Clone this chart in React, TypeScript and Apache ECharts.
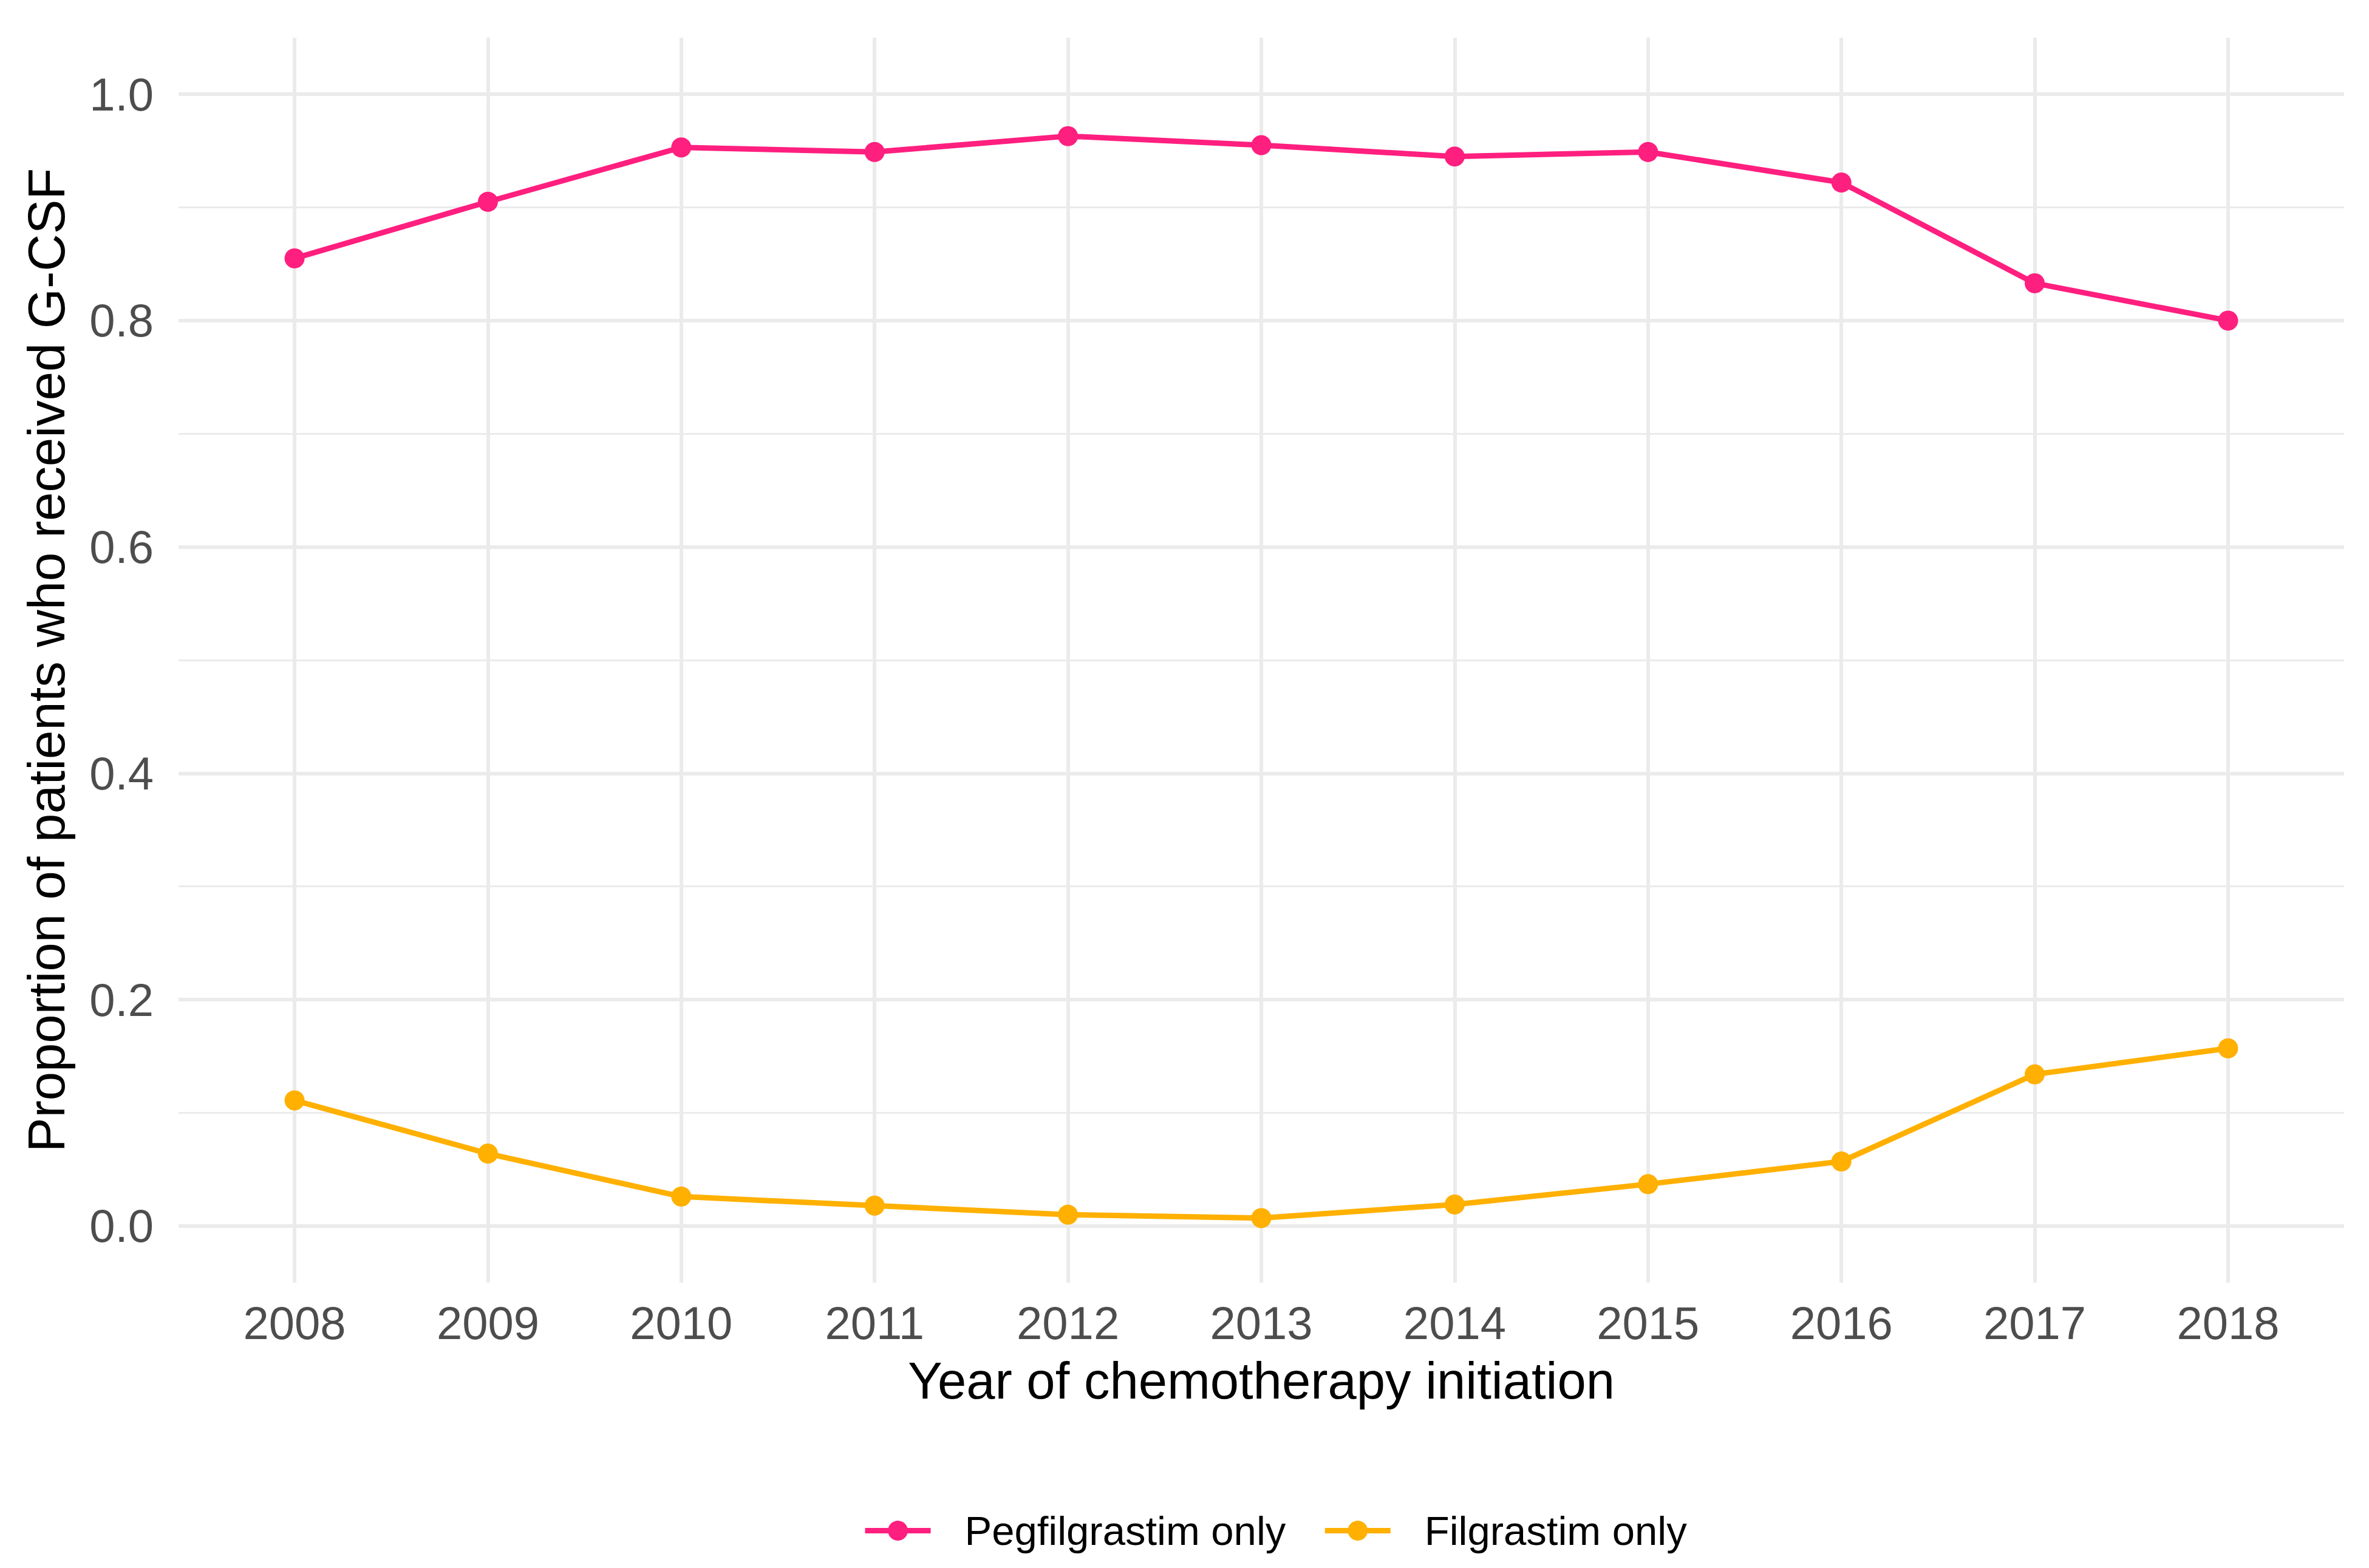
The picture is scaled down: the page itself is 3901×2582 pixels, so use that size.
import React, { useEffect, useRef } from "react";
import * as echarts from "echarts";

const years: number[] = [2008, 2009, 2010, 2011, 2012, 2013, 2014, 2015, 2016, 2017, 2018];
const pegfilgrastimOnly: number[] = [0.855, 0.905, 0.953, 0.949, 0.963, 0.955, 0.945, 0.949, 0.922, 0.833, 0.8];
const filgrastimOnly: number[] = [0.111, 0.064, 0.026, 0.018, 0.01, 0.007, 0.019, 0.037, 0.057, 0.134, 0.157];
const seriesNames: string[] = ["Pegfilgrastim only", "Filgrastim only"];
const seriesColors: string[] = ["#FF1F7F", "#FFB000"];

const FONT = "'Liberation Sans', Arial, Helvetica, sans-serif";

export default function App() {
  const ref = useRef<HTMLDivElement>(null);
  useEffect(() => {
    if (!ref.current) return;
    const chart = echarts.init(ref.current, undefined, { renderer: "svg" });
    const mk = (vals: number[]) => years.map((y, i) => [y, vals[i]]);
    chart.setOption({
      animation: false,
      backgroundColor: "#FFFFFF",
      textStyle: { fontFamily: FONT },
      grid: { left: 294, right: 41, top: 62, bottom: 470, containLabel: false },
      legend: {
        left: 1420,
        top: 2487,
        padding: 0,
        itemWidth: 108,
        itemHeight: 41,
        itemGap: 60,
        data: seriesNames,
        lineStyle: { width: 9 },
        textStyle: { fontFamily: FONT, fontSize: 67, color: "#000000", padding: [0, 0, 0, 51] },
      },
      xAxis: {
        type: "value",
        min: 2007.4,
        max: 2018.6,
        splitNumber: 11,
        minInterval: 1,
        maxInterval: 1,
        axisLine: { show: false },
        axisTick: { show: false },
        axisLabel: {
          showMinLabel: false,
          showMaxLabel: false,
          margin: 28,
          fontSize: 76,
          color: "#4D4D4D",
          fontFamily: FONT,
          formatter: (v: number) => String(v),
        },
        splitLine: { show: true, showMinLine: false, showMaxLine: false, lineStyle: { color: "#EBEBEB", width: 6 } },
        name: "Year of chemotherapy initiation",
        nameLocation: "middle",
        nameGap: 119,
        nameTextStyle: { fontSize: 85, color: "#000000", fontFamily: FONT },
      },
      yAxis: {
        type: "value",
        min: -0.05,
        max: 1.05,
        splitNumber: 5,
        axisLine: { show: false },
        axisTick: { show: false },
        minorTick: { show: false, splitNumber: 2 },
        minorSplitLine: { show: true, lineStyle: { color: "#EBEBEB", width: 3 } },
        axisLabel: {
          showMinLabel: false,
          showMaxLabel: false,
          margin: 41,
          fontSize: 76,
          color: "#4D4D4D",
          fontFamily: FONT,
          formatter: (v: number) => v.toFixed(1),
        },
        splitLine: { show: true, showMinLine: false, showMaxLine: false, lineStyle: { color: "#EBEBEB", width: 6 } },
        name: "Proportion of patients who received G-CSF",
        nameLocation: "middle",
        nameGap: 175,
        nameTextStyle: { fontSize: 85, color: "#000000", fontFamily: FONT },
      },
      series: [
        {
          name: seriesNames[0],
          type: "line",
          data: mk(pegfilgrastimOnly),
          symbol: "circle",
          symbolSize: 33,
          color: seriesColors[0],
          lineStyle: { width: 9, color: seriesColors[0] },
          itemStyle: { color: seriesColors[0] },
        },
        {
          name: seriesNames[1],
          type: "line",
          data: mk(filgrastimOnly),
          symbol: "circle",
          symbolSize: 33,
          color: seriesColors[1],
          lineStyle: { width: 9, color: seriesColors[1] },
          itemStyle: { color: seriesColors[1] },
        },
      ],
    });
    return () => chart.dispose();
  }, []);
  return (
    <div
      ref={ref}
      style={{ position: "absolute", left: 0, top: 0, width: 3901, height: 2582, background: "#FFFFFF" }}
    />
  );
}
